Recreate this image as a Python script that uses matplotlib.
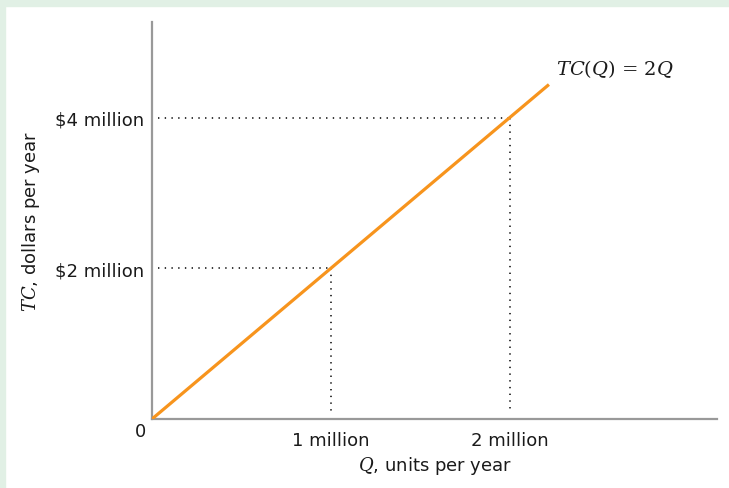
import matplotlib.pyplot as plt
from matplotlib.patches import Rectangle

plt.rcParams['font.family'] = ['DejaVu Sans']
plt.rcParams['mathtext.fontset'] = 'dejavuserif'

# total cost TC(Q) = 2Q, values in millions
q_line = [0, 2.22]
tc_line = [0, 4.44]

# points marked with dotted guides
q_marks = [1, 2]
tc_marks = [2, 4]

x_ticks = [1, 2]
x_labels = ["1 million", "2 million"]
y_ticks = [2, 4]
y_labels = [r"\$2 million", r"\$4 million"]

orange = '#f7941d'
grey = '#999999'
ink = '#1a1a1a'

fig = plt.figure(figsize=(7.29, 4.89), dpi=100)
fig.patch.set_facecolor('white')

# light green frame on top and left
fig.patches.append(Rectangle((0, 1 - 7 / 489), 1, 7 / 489, transform=fig.transFigure,
                             color='#e1f0e5', zorder=0))
fig.patches.append(Rectangle((0, 0), 5 / 729, 1, transform=fig.transFigure,
                             color='#e1f0e5', zorder=0))

ax = fig.add_axes([152 / 729, 69 / 489, 565 / 729, 397 / 489])
ax.set_facecolor('none')

ax.set_xlim(0, 3.16)
ax.set_ylim(0, 5.27)

# dotted guide lines
for q, tc in zip(q_marks, tc_marks):
    ax.plot([0.035, q], [tc, tc], color='black', lw=1.1, linestyle=(0, (0.9, 3.5)), zorder=1)
    ax.plot([q, q], [tc, 0.08], color='black', lw=1.1, linestyle=(0, (0.9, 3.5)), zorder=1)

# cost line
ax.plot(q_line, tc_line, color=orange, lw=2.3, solid_capstyle='butt', zorder=3)
ax.annotate(r"$TC(Q)$ = 2$Q$", xy=(q_line[-1], tc_line[-1]), xytext=(5, 11.5),
            textcoords='offset points', ha='left', va='center',
            fontsize=14, family='DejaVu Serif', color=ink)

for side in ['top', 'right']:
    ax.spines[side].set_visible(False)
for side in ['left', 'bottom']:
    ax.spines[side].set_color(grey)
    ax.spines[side].set_linewidth(1.6)

ax.set_xticks(x_ticks)
ax.set_xticklabels(x_labels)
ax.set_yticks(y_ticks)
ax.set_yticklabels(y_labels)
ax.tick_params(axis='both', length=0, labelsize=13, colors=ink)
ax.tick_params(axis='x', pad=9)
ax.tick_params(axis='y', pad=6)

# the zero at the corner
ax.text(-0.035, -0.16, "0", ha='right', va='center', fontsize=13, color=ink)

ax.set_xlabel(r"$Q$, units per year", fontsize=13, color=ink)
ax.xaxis.set_label_coords(0.5, -0.088)
ax.set_ylabel(r"$TC$, dollars per year", fontsize=13, color=ink)
ax.yaxis.set_label_coords(-0.195, 0.5)

fig.savefig('out.png', dpi=100)
